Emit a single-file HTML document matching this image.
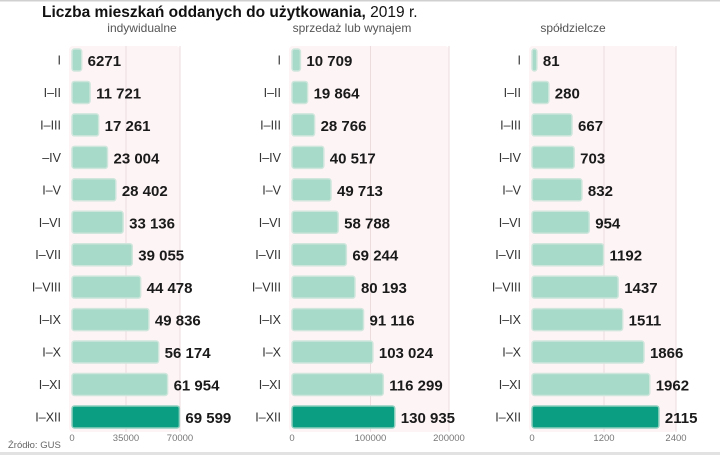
<!DOCTYPE html>
<html><head><meta charset="utf-8"><style>
body{margin:0;background:#fff;}
svg{display:block;font-family:"Liberation Sans",sans-serif;}
</style></head><body>
<svg id="c" width="720" height="455" xmlns="http://www.w3.org/2000/svg">
<rect x="0" y="0" width="720" height="1.5" fill="#d0d0d0"/>
<rect x="0" y="452" width="720" height="3" fill="#e2e2e2"/>
<text x="42" y="17" font-size="15.5" font-weight="bold" fill="#111">Liczba mieszkań oddanych do użytkowania,<tspan font-weight="normal"> 2019 r.</tspan></text>
<text x="8" y="448" font-size="9.5" fill="#666">Źródło: GUS</text>
<g id="plots"></g>
</svg>
<script>
const categories=["I","I–II","I–III","–IV","I–V","I–VI","I–VII","I–VIII","I–IX","I–X","I–XI","I–XII"];
const categories2=["I","I–II","I–III","I–IV","I–V","I–VI","I–VII","I–VIII","I–IX","I–X","I–XI","I–XII"];
const indywidualne=[6271,11721,17261,23004,28402,33136,39055,44478,49836,56174,61954,69599];
const sprzedaz=[10709,19864,28766,40517,49713,58788,69244,80193,91116,103024,116299,130935];
const spoldzielcze=[81,280,667,703,832,954,1192,1437,1511,1866,1962,2115];
const ticks1=[0,35000,70000];
const ticks2=[0,100000,200000];
const ticks3=[0,1200,2400];
const panels=[
 {title:"indywidualne",cats:categories,vals:indywidualne,ticks:ticks1,x0:72,x1:180,tx:142,name:"indywidualne"},
 {title:"sprzedaż lub wynajem",cats:categories2,vals:sprzedaz,ticks:ticks2,x0:292,x1:449,tx:352,name:"sprzedaz"},
 {title:"spółdzielcze",cats:categories2,vals:spoldzielcze,ticks:ticks3,x0:532,x1:676,tx:573,name:"spoldzielcze"}
];
const NS="http://www.w3.org/2000/svg";
const g=document.getElementById('plots');
function mk(t,a,p){const e=document.createElementNS(NS,t);for(const k in a)e.setAttribute(k,a[k]);(p||g).appendChild(e);return e;}
function fmt(v){return v<10000?String(v):String(v).replace(/\B(?=(\d{3})+(?!\d))/g," ");}
const rowY=i=>60+i*32.45;
panels.forEach(p=>{
 const max=p.ticks[p.ticks.length-1];
 const sx=v=>p.x0+(v/max)*(p.x1-p.x0);
 const pg=mk('g',{});
 
 
 const bg=mk('rect',{x:p.x0-3,y:46,width:p.x1-p.x0+3,height:386,fill:'#fdf4f5',rx:4},pg);
 
 
 p.ticks.forEach((t,i)=>{
  if(i>0){const l=mk('line',{x1:sx(t),x2:sx(t),y1:46,y2:432,stroke:'#eddcde','stroke-width':1},pg);
  
  }
  const tt=mk('text',{x:sx(t),y:441,'font-size':'9.5',fill:'#777','text-anchor':'middle'},pg);
  tt.textContent=t;
  
  
 });
 const st=mk('text',{x:p.tx,y:32,'font-size':'12',fill:'#555','text-anchor':'middle'},pg);
 st.textContent=p.title;
 
 
 p.vals.forEach((v,i)=>{
  const y=rowY(i);
  const last=i===p.vals.length-1;
  const w=Math.max(sx(v)-p.x0,2);
  const b=mk('rect',{x:p.x0,y:y-11,width:w,height:22,rx:2.5,fill:last?'#0b9e83':'#a7dac8',stroke:last?'#8fcfbe':'#cfe6dd','stroke-width':1.5},pg);
  
  
  const c=mk('text',{x:p.x0-11,y:y+4.5,'font-size':'12.5',fill:'#333','text-anchor':'end'},pg);
  c.textContent=p.cats[i];
  
  
  const vt=mk('text',{x:p.x0+w+6,y:y+6,'font-size':'15','font-weight':'bold',fill:'#1a1a1a'},pg);
  vt.textContent=fmt(v);
  
  
 });
});
</script>
</body></html>
